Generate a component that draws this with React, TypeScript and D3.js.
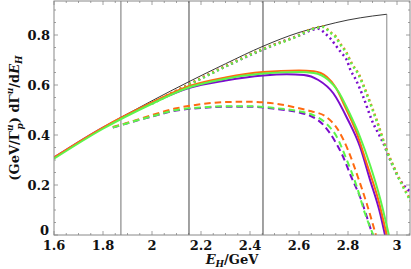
import React from "react";
import * as d3 from "d3";

type Pt = [number, number];

// E_H values and dΓ/dE_H
const blackCurve: Pt[] = [
  [1.6, 0.31], [1.7, 0.372], [1.8, 0.43], [1.873, 0.47], [2.0, 0.537], [2.15, 0.613],
  [2.3, 0.685], [2.453, 0.755], [2.6, 0.81], [2.7, 0.837], [2.8, 0.86], [2.9, 0.876], [2.958, 0.883],
];

const solidOrange: Pt[] = [
  [1.6, 0.31], [1.8, 0.43], [2.0, 0.53], [2.15, 0.595], [2.3, 0.63], [2.453, 0.652], [2.6, 0.658],
  [2.66, 0.655], [2.713, 0.633], [2.75, 0.59], [2.788, 0.513], [2.836, 0.407], [2.876, 0.287],
  [2.924, 0.14], [2.958, 0],
];
const solidGreen: Pt[] = [
  [1.6, 0.305], [1.8, 0.425], [2.0, 0.525], [2.15, 0.59], [2.3, 0.625], [2.453, 0.646], [2.6, 0.652],
  [2.66, 0.648], [2.72, 0.62], [2.76, 0.575], [2.8, 0.5], [2.85, 0.39], [2.89, 0.28], [2.93, 0.15],
  [2.967, 0],
];
const solidPurple: Pt[] = [
  [1.6, 0.31], [1.8, 0.43], [2.0, 0.528], [2.15, 0.588], [2.3, 0.618], [2.453, 0.638], [2.55, 0.643],
  [2.62, 0.64], [2.679, 0.62], [2.74, 0.567], [2.8, 0.46], [2.849, 0.353], [2.89, 0.22], [2.931, 0.087],
  [2.951, 0],
];

const dashedOrange: Pt[] = [
  [1.84, 0.432], [1.92, 0.455], [2.0, 0.48], [2.1, 0.507], [2.2, 0.523], [2.3, 0.532], [2.4, 0.533],
  [2.5, 0.526], [2.6, 0.507], [2.65, 0.495], [2.71, 0.473], [2.76, 0.42], [2.8, 0.34], [2.84, 0.233],
  [2.876, 0.127], [2.914, 0],
];
const dashedGreen: Pt[] = [
  [1.84, 0.43], [2.0, 0.475], [2.1, 0.5], [2.2, 0.51], [2.3, 0.515], [2.4, 0.515], [2.5, 0.508],
  [2.6, 0.495], [2.65, 0.483], [2.71, 0.447], [2.754, 0.393], [2.795, 0.3], [2.836, 0.193],
  [2.869, 0.087], [2.903, 0],
];
const dashedPurple: Pt[] = [
  [1.84, 0.43], [2.0, 0.474], [2.1, 0.498], [2.2, 0.508], [2.3, 0.513], [2.4, 0.513], [2.5, 0.505],
  [2.6, 0.49], [2.65, 0.475], [2.7, 0.44], [2.75, 0.37], [2.78, 0.313], [2.81, 0.24], [2.85, 0.15],
  [2.9, 0],
];

const dottedOrange: Pt[] = [
  [2.0, 0.527], [2.15, 0.603], [2.3, 0.676], [2.453, 0.745], [2.6, 0.8], [2.645, 0.822], [2.7, 0.834],
  [2.727, 0.812], [2.751, 0.793], [2.767, 0.767], [2.792, 0.733], [2.815, 0.687], [2.842, 0.647],
  [2.876, 0.567], [2.917, 0.46], [2.958, 0.34], [2.999, 0.247], [3.04, 0.167], [3.06, 0.13],
];
const dottedGreen: Pt[] = [
  [2.0, 0.525], [2.15, 0.6], [2.3, 0.674], [2.453, 0.743], [2.6, 0.798], [2.645, 0.82], [2.7, 0.832],
  [2.727, 0.81], [2.751, 0.79], [2.767, 0.764], [2.792, 0.73], [2.815, 0.684], [2.842, 0.643],
  [2.876, 0.563], [2.917, 0.456], [2.958, 0.337], [2.999, 0.244], [3.04, 0.164], [3.06, 0.128],
];
const dottedPurple: Pt[] = [
  [2.0, 0.526], [2.15, 0.601], [2.3, 0.674], [2.453, 0.742], [2.6, 0.798], [2.679, 0.825],
  [2.706, 0.807], [2.727, 0.787], [2.754, 0.753], [2.774, 0.727], [2.795, 0.7], [2.81, 0.66],
  [2.829, 0.627], [2.862, 0.553], [2.897, 0.46], [2.944, 0.367], [2.978, 0.287], [3.012, 0.22],
  [3.046, 0.18], [3.06, 0.17],
];

const vLines = [1.873, 2.151, 2.453];
const thresholdE = 2.958;
const xTicks = [1.6, 1.8, 2, 2.2, 2.4, 2.6, 2.8, 3];
const yTicks = [0, 0.2, 0.4, 0.6, 0.8];

const orange = "#ff6a10";
const green = "#5cf54a";
const purple = "#7a0ccc";

const W = 411;
const H = 269;
const left = 54;
const right = 410;
const top = 1;
const bottom = 235;

export default function App() {
  const x = d3.scaleLinear().domain([1.6, 1.6 + (right - left) / 245]).range([left, right]);
  const y = d3.scaleLinear().domain([0, (bottom - top) / 250]).range([bottom, top]);
  const line = d3
    .line<Pt>()
    .x((d) => x(d[0]))
    .y((d) => y(d[1]))
    .curve(d3.curveMonotoneX);

  const minorX = d3.range(1.6, 3.06, 0.05);
  const minorY = d3.range(0, 0.94, 0.05);
  const fmt = (v: number) => (v === 0 ? "0" : Number.isInteger(v) ? String(v) : v.toFixed(1));

  const curve = (data: Pt[], color: string, dash?: string, w = 2) => (
    <path d={line(data) || ""} fill="none" stroke={color} strokeWidth={w} strokeDasharray={dash} />
  );

  const font = "'DejaVu Serif', serif";

  return (
    <svg width={W} height={H} style={{ position: "absolute", left: 0, top: 0, background: "#fff" }}>
      <defs>
        <clipPath id="plot">
          <rect x={left} y={top} width={right - left} height={bottom - top} />
        </clipPath>
      </defs>

      {/* frame ticks */}
      <g stroke="#888" strokeWidth={0.8}>
        {minorX.map((t, i) => {
          const major = Math.abs((t - 1.6) / 0.2 - Math.round((t - 1.6) / 0.2)) < 1e-6;
          const len = major ? 4 : 2;
          return (
            <g key={"mx" + i}>
              <line x1={x(t)} x2={x(t)} y1={bottom} y2={bottom - len} />
              <line x1={x(t)} x2={x(t)} y1={top} y2={top + len} />
            </g>
          );
        })}
        {minorY.map((t, i) => {
          const major = Math.abs(t / 0.2 - Math.round(t / 0.2)) < 1e-6;
          const len = major ? 4 : 2;
          return (
            <g key={"my" + i}>
              <line x1={left} x2={left + len} y1={y(t)} y2={y(t)} />
              <line x1={right} x2={right - len} y1={y(t)} y2={y(t)} />
            </g>
          );
        })}
      </g>

      {/* vertical marker lines */}
      {vLines.map((v, i) => (
        <line
          key={"v" + i}
          x1={x(v)}
          x2={x(v)}
          y1={top}
          y2={bottom}
          stroke={i === 0 ? "#9a9a9a" : "#444"}
          strokeWidth={i === 0 ? 1.4 : 1}
        />
      ))}
      <line
        x1={x(thresholdE)}
        x2={x(thresholdE)}
        y1={y(blackCurve[blackCurve.length - 1][1])}
        y2={bottom}
        stroke="#aaa"
        strokeWidth={1.4}
      />

      <g clipPath="url(#plot)">
        {curve(blackCurve, "#222", undefined, 0.9)}
        {curve(dottedPurple, purple, "2 3.2", 2.5)}
        {curve(dottedOrange, orange, "2 3.2", 2.5)}
        {curve(dottedGreen, green, "2 3.2", 2.5)}
        {curve(dashedPurple, purple, "6.5 4")}
        {curve(dashedOrange, orange, "6.5 4")}
        {curve(dashedGreen, green, "6.5 4")}
        {curve(solidPurple, purple)}
        {curve(solidOrange, orange)}
        {curve(solidGreen, green)}
      </g>

      {/* frame */}
      <rect x={left} y={top} width={right - left} height={bottom - top} fill="none" stroke="#888" strokeWidth={1} />

      {/* tick labels */}
      <g fontFamily={font} fontWeight="bold" fontSize={13} fill="#111">
        {xTicks.map((t) => (
          <text key={"xt" + t} x={x(t)} y={bottom + 15} textAnchor="middle">
            {fmt(t)}
          </text>
        ))}
        {yTicks.map((t) => (
          <text key={"yt" + t} x={left - (t === 0 ? 5 : 4)} y={y(t) + (t === 0 ? 0 : 4.5)} textAnchor="end">
            {fmt(t)}
          </text>
        ))}
      </g>

      {/* axis titles */}
      <text x={232} y={264} textAnchor="middle" fontFamily={font} fontWeight="bold" fontSize={13} fill="#111">
        <tspan fontStyle="italic">E</tspan>
        <tspan fontStyle="italic" fontSize={9} dy={3}>H</tspan>
        <tspan dy={-3}>/GeV</tspan>
      </text>
      <text
        transform={`translate(19,${118}) rotate(-90)`}
        textAnchor="middle"
        fontFamily={font}
        fontWeight="bold"
        fontSize={13}
        fill="#111"
      >
        <tspan>(GeV/Γ</tspan>
        <tspan fontStyle="italic" fontSize={9} dy={-6}>u</tspan>
        <tspan fontStyle="italic" fontSize={9} dx={-5} dy={10}>p</tspan>
        <tspan dy={-4}>) dΓ</tspan>
        <tspan fontStyle="italic" fontSize={9} dy={-6}>u</tspan>
        <tspan dy={6}>/d</tspan>
        <tspan fontStyle="italic">E</tspan>
        <tspan fontStyle="italic" fontSize={9} dy={3}>H</tspan>
      </text>
    </svg>
  );
}
